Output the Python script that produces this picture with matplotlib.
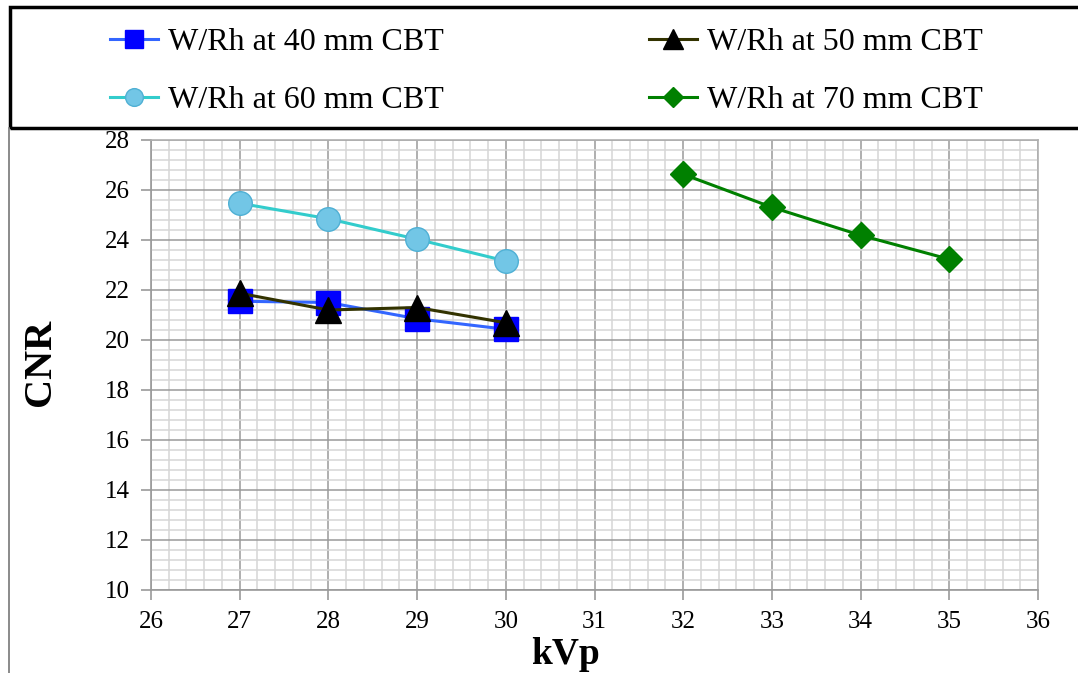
import matplotlib
matplotlib.use("Agg")
import matplotlib.pyplot as plt
from matplotlib.ticker import MultipleLocator
from matplotlib.patches import Rectangle
from matplotlib.lines import Line2D

plt.rcParams['font.family'] = ['Liberation Serif', 'DejaVu Serif']

kvp_low = [27, 28, 29, 30]
kvp_high = [32, 33, 34, 35]
cnr_40 = [21.55, 21.5, 20.85, 20.43]
cnr_50 = [21.87, 21.2, 21.3, 20.69]
cnr_60 = [25.47, 24.85, 24.03, 23.16]
cnr_70 = [26.63, 25.31, 24.19, 23.23]
labels = ["W/Rh at 40 mm CBT", "W/Rh at 50 mm CBT",
          "W/Rh at 60 mm CBT", "W/Rh at 70 mm CBT"]

W, H = 1078, 673
fig = plt.figure(figsize=(W / 100, H / 100), dpi=100)
ax = fig.add_axes([151 / W, 1 - 590 / H, 887 / W, 450 / H])

l40, = ax.plot(kvp_low, cnr_40, color='#3366ff', lw=2.2, marker='s', ms=17,
               mfc='#0000ff', mec='#0000ff', zorder=3)
l50, = ax.plot(kvp_low, cnr_50, color='#333300', lw=2.2, marker='^', ms=19,
               mfc='black', mec='black', zorder=4)
l60, = ax.plot(kvp_low, cnr_60, color='#33cccc', lw=2.2, marker='o', ms=17,
               mfc='#72c6e6', mec='#4fb0d4', mew=1, zorder=3)
l70, = ax.plot(kvp_high, cnr_70, color='#008000', lw=2.2, marker='D', ms=13,
               mfc='#008000', mec='#008000', zorder=3)

ax.set_xlim(26, 36)
ax.set_ylim(10, 28)
ax.xaxis.set_major_locator(MultipleLocator(1))
ax.xaxis.set_minor_locator(MultipleLocator(0.2))
ax.yaxis.set_major_locator(MultipleLocator(2))
ax.yaxis.set_minor_locator(MultipleLocator(0.4))
ax.grid(which='major', color='#9a9a9a', lw=1.1)
ax.grid(which='minor', color='#d6d6d6', lw=1.1)
ax.set_axisbelow(True)

for s in ['left', 'bottom']:
    ax.spines[s].set_color('#9a9a9a')
    ax.spines[s].set_linewidth(1.2)
for s in ['top', 'right']:
    ax.spines[s].set_color('#b0b0b0')
    ax.spines[s].set_linewidth(1.2)

ax.tick_params(which='major', direction='out', length=7, width=1.2,
               color='#9a9a9a', labelsize=18, pad=8)
ax.tick_params(which='minor', length=0)

ax.set_xlabel("kVp", fontsize=27, fontweight='bold')
ax.xaxis.set_label_coords((565 - 151) / 887, -0.105)
ax.set_ylabel("CNR", fontsize=29, fontweight='bold')
ax.yaxis.set_label_coords(-0.104, 0.505)

# legend box at the top
fig.patches.append(Rectangle((10 / W, 1 - 128 / H), 1.2, 121 / H,
                             transform=fig.transFigure, fill=False,
                             edgecolor='black', lw=2.5))
fig.add_artist(Line2D([9 / W, 9 / W], [0, 1 - 128 / H],
                      transform=fig.transFigure, color='#777777', lw=1.2))

# ncol fills by column, so order 40, 60 | 50, 70
fig.legend([l40, l60, l50, l70], [labels[0], labels[2], labels[1], labels[3]],
           ncol=2, loc='upper left',
           bbox_to_anchor=(110 / W, 1 - 28 / H), frameon=False,
           fontsize=23, handlelength=1.5, handletextpad=0.3,
           columnspacing=6.45, labelspacing=0.9, markerscale=0.75,
           borderaxespad=0, borderpad=0)

fig.savefig("out.png", dpi=100)
